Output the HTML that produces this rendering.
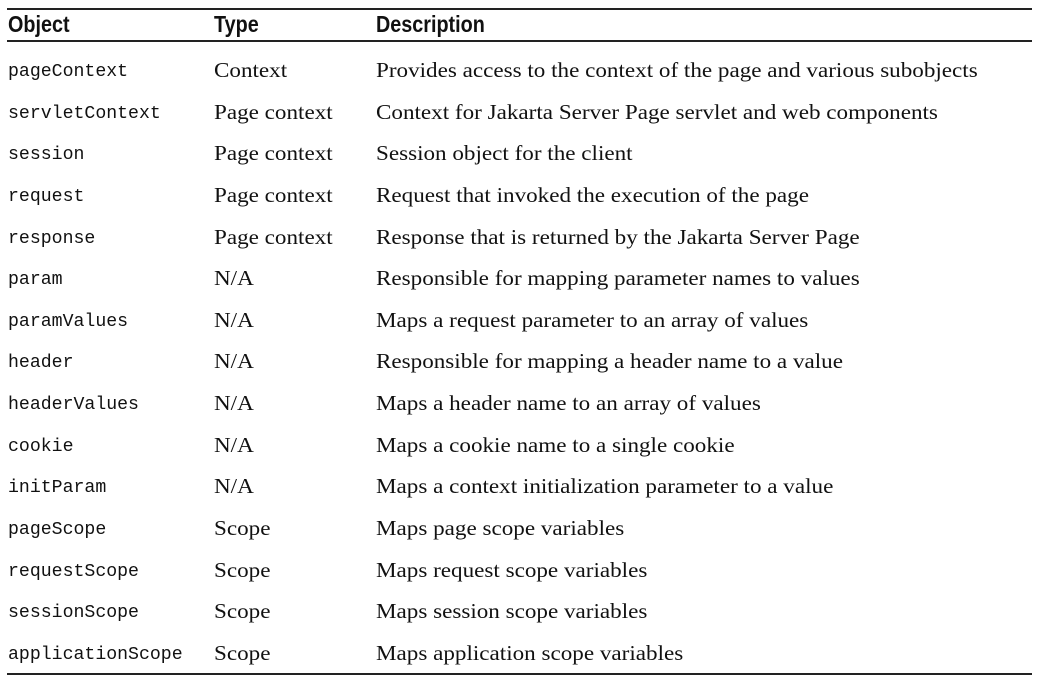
<!DOCTYPE html>
<html><head><meta charset="utf-8"><style>
html,body{margin:0;padding:0;background:#fff;width:1052px;height:685px;overflow:hidden;position:relative}
.line{position:absolute;left:7px;width:1025px;background:#222}
.h{position:absolute;top:9px;font-family:"Liberation Sans",sans-serif;font-weight:bold;font-size:23px;color:#111;line-height:30px;transform:scaleX(0.86);transform-origin:left center}
.c{position:absolute;line-height:24px;color:#111;white-space:nowrap;transform-origin:left center}
.m{font-family:"Liberation Mono",monospace;font-size:18.2px;left:8px;margin-top:1px}
.s{font-family:"Liberation Serif",serif;font-size:21px;transform:scaleX(1.1);margin-top:-1px}
</style></head><body>
<div class="line" style="top:8px;height:2px"></div>
<div class="line" style="top:40px;height:2px"></div>
<div class="line" style="top:673px;height:2px"></div>
<div class="h" style="left:8px">Object</div>
<div class="h" style="left:214px">Type</div>
<div class="h" style="left:376px">Description</div>
<div id="rows"></div>
<script>
const objects=["pageContext","servletContext","session","request","response","param","paramValues","header","headerValues","cookie","initParam","pageScope","requestScope","sessionScope","applicationScope"];
const types=["Context","Page context","Page context","Page context","Page context","N/A","N/A","N/A","N/A","N/A","N/A","Scope","Scope","Scope","Scope"];
const descs=["Provides access to the context of the page and various subobjects","Context for Jakarta Server Page servlet and web components","Session object for the client","Request that invoked the execution of the page","Response that is returned by the Jakarta Server Page","Responsible for mapping parameter names to values","Maps a request parameter to an array of values","Responsible for mapping a header name to a value","Maps a header name to an array of values","Maps a cookie name to a single cookie","Maps a context initialization parameter to a value","Maps page scope variables","Maps request scope variables","Maps session scope variables","Maps application scope variables"];
const root=document.getElementById('rows');
objects.forEach((o,i)=>{
  const top=59+i*41.64;
  const a=document.createElement('div');a.className='c m';a.style.top=top+'px';a.textContent=o;
  
  
  const b=document.createElement('div');b.className='c s';b.style.left='214px';b.style.top=top+'px';b.textContent=types[i];
  
  
  const c=document.createElement('div');c.className='c s';c.style.left='376px';c.style.top=top+'px';c.textContent=descs[i];
  
  
  root.appendChild(a);root.appendChild(b);root.appendChild(c);
});
</script>
</body></html>
